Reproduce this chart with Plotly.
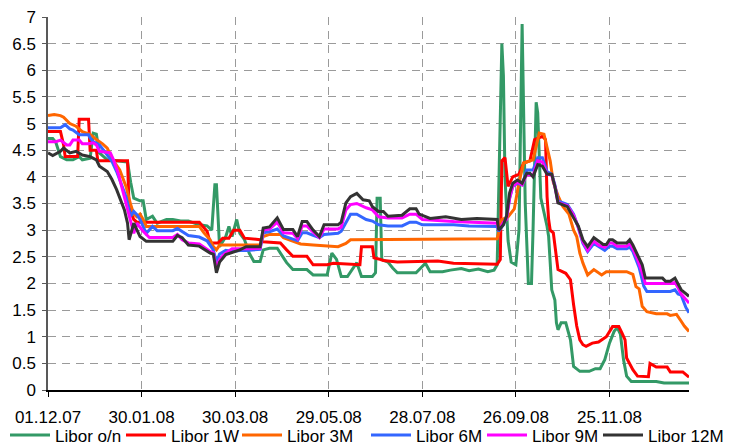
import pandas as pd
import plotly.graph_objects as go

START = "2007-12-01"

# ---- data: day offsets from 01.12.07 and rates (%) ----
on_days = [0, 3, 5, 8, 12, 16, 20, 22, 27, 29, 31, 33, 38, 46, 51, 53, 55, 59, 61, 63, 67, 70, 76, 80, 85, 90, 97, 102, 105, 107, 108, 110, 114, 116, 118, 121, 123, 126, 129, 132, 136, 138, 142, 147, 149, 153, 157, 166, 170, 179, 182, 185, 188, 192, 198, 201, 208, 210, 211, 213, 214, 218, 221, 224, 236, 242, 245, 253, 258, 265, 270, 276, 282, 286, 288, 290, 291, 292, 293, 295, 297, 300, 302, 304, 306, 308, 310, 311, 313, 314, 315, 316, 320, 321, 322, 323, 325, 326, 327, 329, 332, 335, 337, 341, 347, 351, 354, 357, 360, 363, 365, 367, 369, 371, 374, 390, 395, 411]
on_vals = [4.72, 4.72, 4.65, 4.38, 4.32, 4.32, 4.38, 4.32, 4.35, 4.82, 4.8, 4.45, 4.32, 4.3, 4.28, 3.9, 3.6, 3.55, 3.55, 3.2, 3.26, 3.13, 3.2, 3.2, 3.17, 3.17, 3.1, 3.08, 3.0, 3.85, 3.85, 2.69, 2.88, 3.07, 2.88, 3.2, 2.94, 2.82, 2.57, 2.41, 2.41, 2.63, 2.66, 2.66, 2.57, 2.39, 2.26, 2.26, 2.16, 2.16, 2.57, 2.45, 2.13, 2.13, 2.39, 2.13, 2.13, 2.2, 3.6, 3.6, 2.45, 2.4, 2.29, 2.2, 2.2, 2.38, 2.22, 2.22, 2.25, 2.28, 2.24, 2.27, 2.22, 2.25, 2.35, 5.5, 6.5, 5.9, 4.0, 2.8, 2.4, 2.35, 3.0, 6.87, 3.5, 2.0, 2.0, 3.0, 5.4, 5.2, 4.5, 3.6, 3.07, 2.88, 2.39, 1.88, 1.69, 1.26, 1.13, 1.26, 1.26, 0.94, 0.44, 0.35, 0.35, 0.4, 0.4, 0.57, 0.88, 1.1, 1.17, 1.05, 0.57, 0.26, 0.16, 0.16, 0.13, 0.13]

w1_days = [0, 8, 10, 11, 19, 20, 26, 27, 31, 32, 51, 52, 55, 57, 97, 102, 104, 109, 112, 116, 119, 123, 126, 136, 138, 149, 153, 157, 166, 170, 179, 183, 200, 201, 208, 209, 212, 215, 224, 250, 260, 288, 290, 291, 293, 295, 298, 302, 305, 309, 312, 317, 319, 320, 321, 322, 324, 327, 332, 335, 337, 339, 341, 343, 345, 349, 353, 358, 362, 366, 368, 370, 371, 375, 378, 385, 386, 390, 397, 399, 407, 411]
w1_vals = [4.85, 4.85, 4.6, 4.38, 4.38, 5.08, 5.08, 4.5, 4.5, 4.3, 4.3, 3.42, 3.2, 3.15, 3.15, 2.98, 2.76, 2.76, 2.85, 2.85, 3.0, 3.0, 2.85, 2.82, 2.78, 2.76, 2.63, 2.51, 2.51, 2.35, 2.35, 2.38, 2.35, 2.69, 2.69, 2.48, 2.46, 2.43, 2.4, 2.42, 2.38, 2.36, 2.45, 4.3, 4.36, 3.82, 4.0, 4.05, 4.26, 4.3, 4.7, 4.76, 4.7, 3.63, 3.2, 3.0, 2.95, 2.26, 2.19, 2.07, 1.6, 1.2, 0.94, 0.85, 0.82, 0.88, 0.9, 1.0, 1.19, 1.19, 1.07, 0.94, 0.6, 0.38, 0.26, 0.25, 0.5, 0.43, 0.43, 0.34, 0.34, 0.24]

m3_days = [0, 4, 8, 10, 14, 18, 22, 27, 31, 35, 38, 42, 46, 50, 53, 55, 57, 59, 61, 63, 97, 100, 104, 106, 108, 110, 136, 138, 142, 149, 151, 157, 162, 170, 181, 186, 191, 194, 288, 291, 295, 299, 302, 305, 311, 313, 315, 318, 320, 322, 324, 327, 330, 334, 337, 339, 341, 343, 346, 348, 350, 355, 358, 371, 375, 377, 379, 381, 384, 390, 397, 399, 403, 406, 408, 411]
m3_vals = [5.15, 5.17, 5.15, 5.12, 5.0, 4.95, 4.85, 4.8, 4.7, 4.62, 4.54, 4.3, 4.13, 3.82, 3.48, 3.3, 3.25, 3.3, 3.2, 3.07, 3.07, 2.95, 2.82, 2.69, 2.63, 2.72, 2.72, 2.88, 2.92, 2.92, 2.86, 2.79, 2.74, 2.72, 2.69, 2.69, 2.75, 2.82, 2.84, 3.2, 3.25, 3.4, 3.9, 4.26, 4.32, 4.6, 4.82, 4.8, 4.55, 4.3, 3.9, 3.65, 3.45, 3.3, 3.0, 2.88, 2.57, 2.38, 2.16, 2.22, 2.26, 2.16, 2.22, 2.22, 2.17, 1.94, 1.9, 1.57, 1.47, 1.43, 1.43, 1.4, 1.42, 1.29, 1.2, 1.1]

m6_days = [0, 8, 11, 14, 16, 20, 26, 27, 29, 33, 38, 41, 44, 47, 50, 53, 55, 57, 59, 63, 67, 70, 80, 83, 86, 90, 97, 102, 106, 108, 110, 114, 118, 123, 127, 136, 138, 142, 147, 149, 151, 157, 160, 163, 166, 170, 174, 177, 186, 188, 191, 194, 198, 204, 208, 212, 218, 227, 232, 236, 240, 250, 260, 270, 288, 289, 292, 294, 296, 298, 301, 304, 307, 311, 314, 317, 320, 323, 325, 327, 333, 337, 340, 343, 346, 350, 353, 357, 360, 362, 365, 371, 373, 375, 379, 382, 384, 399, 402, 404, 406, 409, 411]
m6_vals = [4.92, 4.92, 4.98, 4.9, 4.88, 4.79, 4.79, 4.73, 4.66, 4.6, 4.41, 4.29, 4.1, 3.88, 3.63, 3.26, 3.35, 3.29, 3.2, 2.94, 3.07, 2.99, 2.99, 3.03, 2.98, 2.9, 2.87, 2.8, 2.63, 2.4, 2.55, 2.62, 2.6, 2.62, 2.62, 2.64, 2.95, 2.97, 3.02, 2.95, 2.89, 2.83, 2.8, 2.95, 2.95, 2.9, 2.86, 2.92, 2.94, 2.98, 3.15, 3.3, 3.3, 3.2, 3.17, 3.1, 3.08, 3.08, 3.15, 3.15, 3.1, 3.1, 3.1, 3.08, 3.07, 2.98, 3.1, 3.26, 3.6, 3.82, 3.88, 3.85, 4.13, 4.13, 4.36, 4.36, 4.1, 4.05, 3.85, 3.55, 3.48, 3.3, 3.05, 2.75, 2.6, 2.75, 2.7, 2.62, 2.7, 2.7, 2.65, 2.65, 2.68, 2.6, 2.3, 1.95, 1.85, 1.85, 1.88, 1.8, 1.78, 1.55, 1.45]

m9_days = [0, 5, 8, 12, 14, 16, 20, 22, 26, 29, 31, 33, 40, 42, 45, 48, 50, 53, 55, 57, 61, 65, 80, 83, 86, 90, 97, 104, 106, 108, 110, 113, 118, 127, 136, 138, 142, 147, 149, 151, 157, 160, 163, 166, 170, 174, 177, 186, 188, 191, 194, 198, 204, 208, 212, 218, 227, 232, 236, 240, 260, 288, 289, 292, 294, 296, 298, 301, 304, 307, 311, 314, 317, 320, 323, 325, 327, 333, 337, 340, 343, 346, 350, 353, 357, 360, 362, 365, 371, 373, 375, 378, 381, 383, 399, 402, 404, 406, 409, 411]
m9_vals = [4.66, 4.66, 4.69, 4.6, 4.6, 4.69, 4.69, 4.62, 4.62, 4.64, 4.6, 4.48, 4.45, 4.32, 4.07, 3.73, 3.51, 3.16, 2.94, 3.13, 2.98, 2.86, 2.86, 2.92, 2.82, 2.76, 2.74, 2.6, 2.58, 2.29, 2.45, 2.55, 2.65, 2.65, 2.66, 3.0, 3.02, 3.15, 3.05, 2.95, 2.94, 2.84, 3.08, 3.08, 2.96, 2.86, 3.02, 3.02, 3.06, 3.38, 3.48, 3.5, 3.42, 3.38, 3.25, 3.23, 3.23, 3.3, 3.3, 3.2, 3.16, 3.13, 3.0, 3.15, 3.2, 3.6, 3.82, 3.9, 3.85, 4.05, 4.02, 4.3, 4.28, 4.05, 4.03, 3.82, 3.52, 3.46, 3.28, 3.06, 2.78, 2.62, 2.8, 2.72, 2.68, 2.76, 2.76, 2.7, 2.7, 2.75, 2.65, 2.45, 2.2, 2.0, 2.0, 2.02, 1.92, 1.8, 1.7, 1.63]

m12_days = [0, 3, 8, 10, 14, 18, 22, 27, 31, 33, 38, 41, 44, 47, 49, 51, 52, 55, 59, 63, 80, 83, 86, 90, 97, 104, 106, 108, 110, 114, 120, 123, 127, 136, 138, 142, 147, 149, 151, 157, 160, 163, 166, 170, 174, 177, 186, 188, 191, 194, 198, 202, 206, 208, 212, 215, 218, 227, 232, 236, 238, 245, 255, 265, 275, 288, 289, 292, 294, 296, 298, 301, 304, 307, 309, 311, 314, 317, 320, 323, 325, 327, 330, 333, 337, 340, 343, 346, 350, 353, 356, 358, 360, 362, 365, 371, 373, 375, 378, 381, 383, 394, 396, 399, 402, 404, 406, 411]
m12_vals = [4.45, 4.4, 4.48, 4.54, 4.45, 4.48, 4.41, 4.38, 4.32, 4.2, 4.1, 3.95, 3.76, 3.54, 3.38, 3.13, 2.82, 3.13, 2.88, 2.79, 2.79, 2.9, 2.86, 2.72, 2.7, 2.57, 2.55, 2.2, 2.4, 2.54, 2.6, 2.63, 2.69, 2.69, 3.04, 3.06, 3.23, 3.12, 3.01, 3.01, 2.88, 3.16, 3.16, 3.0, 2.88, 3.1, 3.1, 3.15, 3.51, 3.63, 3.69, 3.57, 3.55, 3.44, 3.35, 3.35, 3.26, 3.28, 3.4, 3.4, 3.3, 3.22, 3.25, 3.2, 3.22, 3.2, 3.0, 3.1, 3.26, 3.7, 3.88, 3.94, 3.88, 4.07, 4.07, 4.0, 4.23, 4.2, 4.05, 4.05, 3.82, 3.51, 3.48, 3.44, 3.23, 3.08, 2.82, 2.69, 2.86, 2.79, 2.73, 2.73, 2.82, 2.82, 2.76, 2.76, 2.82, 2.72, 2.55, 2.35, 2.1, 2.1, 2.04, 2.04, 2.1, 2.0, 1.88, 1.76]

series_names = ["Libor o/n", "Libor 1W", "Libor 3M", "Libor 6M", "Libor 9M", "Libor 12M"]
series_colors = ["#339966", "#FF0000", "#FF6600", "#3366FF", "#FF00FF", "#333333"]
series_days = [on_days, w1_days, m3_days, m6_days, m9_days, m12_days]
series_vals = [on_vals, w1_vals, m3_vals, m6_vals, m9_vals, m12_vals]

tick_dates = ["2007-12-01", "2008-01-30", "2008-03-30", "2008-05-29", "2008-07-28", "2008-09-26", "2008-11-25"]
tick_labels = ["01.12.07", "30.01.08", "30.03.08", "29.05.08", "28.07.08", "26.09.08", "25.11.08"]
x_end = "2009-01-15"

start = pd.Timestamp(START)
fig = go.Figure()
for i, (name, col, d, v) in enumerate(zip(series_names, series_colors, series_days, series_vals)):
    dates = start + pd.to_timedelta(d, unit="D")
    tr = go.Scatter(
        x=dates, y=v, mode="lines", name=name,
        line=dict(color=col, width=3),
        legend="legend" if i < 3 else "legend2",
    )
    if i == len(series_names) - 1:
        tr.legendwidth = 80
    fig.add_trace(tr)

FONT = "Liberation Sans, Arial, sans-serif"
FS = 17
LEG_Y = -0.122
grid = dict(showgrid=True, gridcolor="#9a9a9a", gridwidth=1, griddash="8px,6px")

fig.update_layout(
    width=729, height=445,
    margin=dict(l=48, r=40, t=17, b=55, autoexpand=False),
    plot_bgcolor="white", paper_bgcolor="white",
    font=dict(family=FONT, size=FS, color="black"),
    xaxis=dict(type="date", range=[START, x_end], tickvals=tick_dates, ticktext=tick_labels,
               showline=True, linecolor="black", linewidth=1.5, ticks="outside", ticklen=5,
               tickcolor="black", zeroline=False, ticklabelstandoff=6, automargin=False, **grid),
    yaxis=dict(range=[0, 7], dtick=0.5, tick0=0, showline=True, linecolor="#595959", linewidth=1.5,
               ticks="outside", ticklen=4, tickcolor="#595959", zeroline=False, ticklabelstandoff=3,
               automargin=False, **grid),
    legend=dict(orientation="h", x=(5 - 48) / 641, xanchor="left", y=LEG_Y, yanchor="middle",
                entrywidth=61, itemwidth=40, font=dict(family=FONT, size=FS),
                bgcolor="rgba(0,0,0,0)"),
    legend2=dict(orientation="h", x=(366 - 48) / 641, xanchor="left", y=LEG_Y, yanchor="middle",
                 entrywidth=61, itemwidth=40, font=dict(family=FONT, size=FS),
                 bgcolor="rgba(0,0,0,0)"),
)

fig.write_html("out.html", config={"displayModeBar": False},
               post_script="document.body.style.margin='0';document.body.style.overflow='hidden';")
